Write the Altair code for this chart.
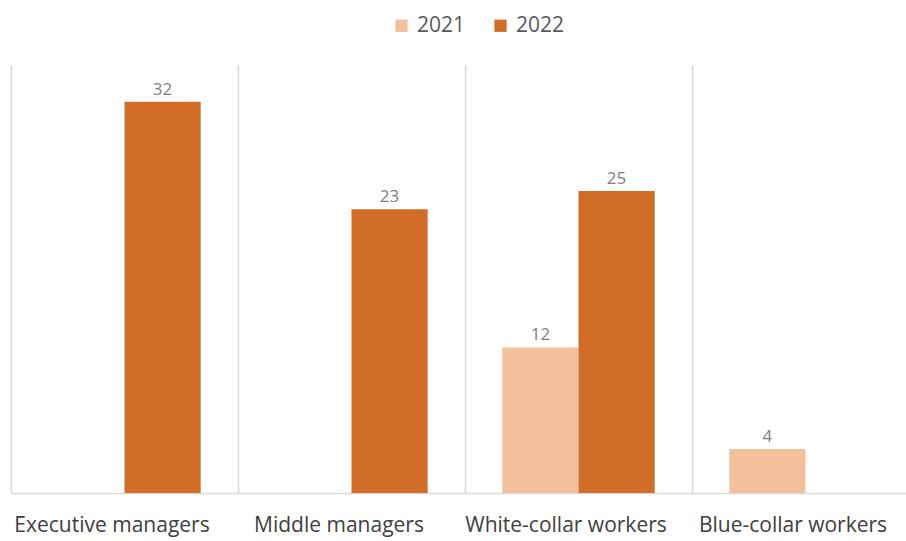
import altair as alt
import pandas as pd

categories = ["Executive managers", "Middle managers", "White-collar workers", "Blue-collar workers"]
years = ["2021", "2022"]
values_2021 = [None, None, 11.9, 3.6]
values_2022 = [32.0, 23.2, 24.7, None]
colors = ["#F4BF9B", "#D26D28"]

rows = []
for c, v1, v2 in zip(categories, values_2021, values_2022):
    if v1 is not None:
        rows.append({"category": c, "year": "2021", "value": v1})
    if v2 is not None:
        rows.append({"category": c, "year": "2022", "value": v2})
df = pd.DataFrame(rows)

FONT = "Open Sans"

base = alt.Chart(df).encode(
    x=alt.X("category:N", sort=categories, title=None,
            scale=alt.Scale(paddingInner=0, paddingOuter=0, range=[0, 908]),
            axis=alt.Axis(tickBand="extent", grid=True, gridColor="#d9d9d9", gridWidth=1.5,
                          ticks=False, domain=True, domainColor="#d9d9d9", domainWidth=1.5,
                          labelAngle=0, labelFontSize=21, labelFont=FONT, labelColor="#404040",
                          labelPadding=21, labelOffset=-13, labelLimit=400)),
    xOffset=alt.XOffset("year:N", sort=years, scale=alt.Scale(domain=years, paddingOuter=0.49, paddingInner=0)),
    y=alt.Y("value:Q", scale=alt.Scale(domain=[0, 35]), axis=None),
)

bars = base.mark_bar().encode(
    color=alt.Color("year:N", sort=years,
                    scale=alt.Scale(domain=years, range=colors),
                    legend=alt.Legend(title=None, orient="none", direction="horizontal",
                                      legendX=380, legendY=-50, symbolType="square",
                                      symbolSize=150, symbolStrokeWidth=0, labelFontSize=21,
                                      labelFont=FONT, labelColor="#595959", columnPadding=24,
                                      labelOffset=5))
)

labels = base.mark_text(baseline="bottom", dy=-3, fontSize=17, font=FONT, color="#7f7f7f").encode(
    text=alt.Text("value:Q", format=".0f")
)

chart = alt.layer(bars, labels).properties(
    width=895, height=428,
    autosize=alt.AutoSizeParams(type="none"),
    padding={"left": 11, "top": 65, "right": 0, "bottom": 48},
).configure_view(stroke=None)

chart.save("out.html", embed_options={"renderer": "svg", "actions": False})
